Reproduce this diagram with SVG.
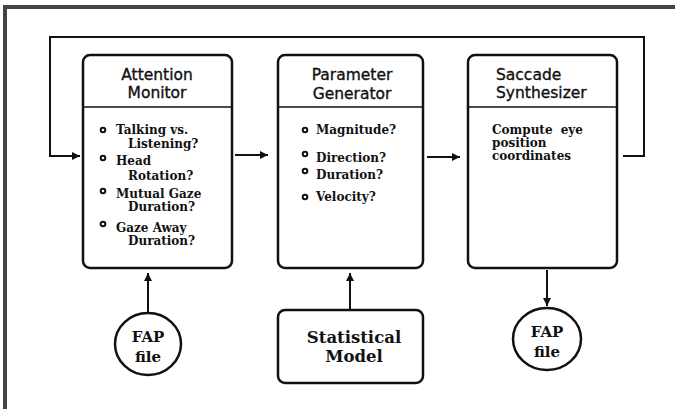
<svg xmlns="http://www.w3.org/2000/svg" width="675" height="409" viewBox="0 0 675 409">
<defs>
<style>
.box{fill:#fff;stroke:#111;stroke-width:2.5}
.div{stroke:#111;stroke-width:1.5}
.ttl{font-family:"DejaVu Sans",sans-serif;font-size:15.5px;fill:#111;stroke:#111;stroke-width:0.35}
.bt{font-family:"DejaVu Serif",serif;font-weight:bold;font-size:12px;fill:#111}
.big{font-family:"DejaVu Serif",serif;font-weight:bold;font-size:16.5px;fill:#111}
.fap{font-family:"DejaVu Serif",serif;font-weight:bold;font-size:15px;fill:#111}
.bul{fill:none;stroke:#111;stroke-width:2}
.con{fill:none;stroke:#111;stroke-width:2}
.frame{fill:none;stroke:#444;stroke-width:4}
</style>
<marker id="ah" viewBox="0 0 10 10" refX="10" refY="5" markerWidth="9" markerHeight="8" markerUnits="userSpaceOnUse" orient="auto">
<path d="M0,0 L10,5 L0,10 z" fill="#111"/>
</marker>
</defs>
<rect width="675" height="409" fill="#fff"/>
<path class="frame" d="M5,409 V7 H675"/>
<g id="connectors">
<path class="con" d="M623,156 H644 V37 H50 V156 H80" marker-end="url(#ah)"/>
<path class="con" d="M235,155 H268" marker-end="url(#ah)"/>
<path class="con" d="M427,157 H460" marker-end="url(#ah)"/>
<path class="con" d="M148,313 V273" marker-end="url(#ah)"/>
<path class="con" d="M350,310 V273" marker-end="url(#ah)"/>
<path class="con" d="M547,270 V306" marker-end="url(#ah)"/>
</g>
<g id="attention-monitor">
<rect class="box" x="83" y="55" width="149" height="213" rx="7"/>
<line class="div" x1="83" y1="107" x2="232" y2="107"/>
<text class="ttl" x="157" y="80" text-anchor="middle">Attention</text>
<text class="ttl" x="157" y="98" text-anchor="middle">Monitor</text>
<circle class="bul" cx="103" cy="130" r="2.3"/>
<circle class="bul" cx="103" cy="158" r="2.3"/>
<circle class="bul" cx="103" cy="191" r="2.3"/>
<circle class="bul" cx="103" cy="224" r="2.3"/>
<text class="bt" x="116" y="134">Talking vs.</text>
<text class="bt" x="128" y="148">Listening?</text>
<text class="bt" x="116" y="165">Head</text>
<text class="bt" x="128" y="180">Rotation?</text>
<text class="bt" x="116" y="198">Mutual Gaze</text>
<text class="bt" x="128" y="211">Duration?</text>
<text class="bt" x="116" y="232">Gaze Away</text>
<text class="bt" x="128" y="245">Duration?</text>
</g>
<g id="parameter-generator">
<rect class="box" x="278" y="55" width="145" height="213" rx="7"/>
<line class="div" x1="278" y1="107" x2="423" y2="107"/>
<text class="ttl" x="352" y="80" text-anchor="middle">Parameter</text>
<text class="ttl" x="352" y="99" text-anchor="middle">Generator</text>
<circle class="bul" cx="305" cy="130" r="2.3"/>
<circle class="bul" cx="305" cy="154" r="2.3"/>
<circle class="bul" cx="305" cy="171" r="2.3"/>
<circle class="bul" cx="305" cy="197" r="2.3"/>
<text class="bt" x="316" y="134">Magnitude?</text>
<text class="bt" x="316" y="162">Direction?</text>
<text class="bt" x="316" y="179">Duration?</text>
<text class="bt" x="316" y="201">Velocity?</text>
</g>
<g id="saccade-synthesizer">
<rect class="box" x="468" y="55" width="149" height="213" rx="7"/>
<line class="div" x1="468" y1="107" x2="617" y2="107"/>
<text class="ttl" x="496" y="80">Saccade</text>
<text class="ttl" x="496" y="98">Synthesizer</text>
<text class="bt" x="492" y="134" word-spacing="4">Compute eye</text>
<text class="bt" x="492" y="147">position</text>
<text class="bt" x="492" y="160">coordinates</text>
</g>
<g id="fap-file-in">
<ellipse class="box" cx="148" cy="344" rx="33" ry="31"/>
<text class="fap" x="148" y="342" text-anchor="middle">FAP</text>
<text class="fap" x="148" y="362" text-anchor="middle">file</text>
</g>
<g id="statistical-model">
<rect class="box" x="278" y="310" width="145" height="73" rx="7"/>
<text class="big" x="354" y="343" text-anchor="middle">Statistical</text>
<text class="big" x="354" y="362" text-anchor="middle">Model</text>
</g>
<g id="fap-file-out">
<ellipse class="box" cx="547" cy="339" rx="34" ry="31"/>
<text class="fap" x="547" y="337" text-anchor="middle">FAP</text>
<text class="fap" x="547" y="357" text-anchor="middle">file</text>
</g>
</svg>
